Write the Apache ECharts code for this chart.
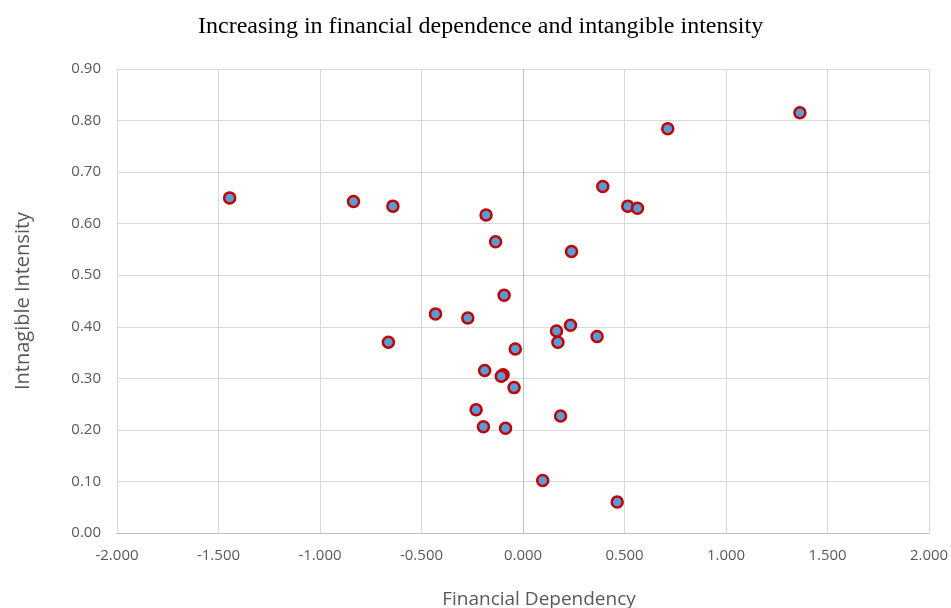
<!DOCTYPE html>
<html>
<head>
<meta charset="utf-8">
<script src="https://cdn.jsdelivr.net/npm/echarts@6/dist/echarts.min.js"></script>
<style>
html,body{margin:0;padding:0;background:#fff;}
#main{width:951px;height:608px;}
</style>
</head>
<body>
<div id="main"></div>
<script>
// financial dependency (x) vs intangible intensity (y)
var finDep = [-1.445, -0.835, -0.641, -0.182, -0.135, 0.239, 0.393, 0.516, 0.564, 0.713,
	1.364, -0.093, -0.431, -0.272, -0.663, 0.165, 0.234, 0.172, 0.365, -0.038,
	-0.189, -0.098, -0.107, -0.044, -0.231, 0.185, -0.195, -0.086, 0.097, 0.464];
var intIntensity = [0.650, 0.643, 0.634, 0.617, 0.565, 0.546, 0.672, 0.634, 0.630, 0.784,
	0.815, 0.461, 0.425, 0.417, 0.370, 0.392, 0.403, 0.370, 0.381, 0.357,
	0.315, 0.307, 0.304, 0.282, 0.239, 0.227, 0.206, 0.203, 0.102, 0.060];

var points = [];
for (var i = 0; i < finDep.length; i++) {
	points.push([finDep[i], intIntensity[i]]);
}

var chart = echarts.init(document.getElementById('main'));
var option = {
	animation: false,
	title: {
		text: 'Increasing in financial dependence and intangible intensity',
		left: 193,
		top: 10,
		textStyle: {
			fontFamily: 'Liberation Serif',
			fontWeight: 'normal',
			fontSize: 24,
			color: '#000'
		}
	},
	grid: {
		left: 117,
		right: 22,
		top: 69,
		bottom: 75,
		outerBoundsMode: 'none'
	},
	xAxis: {
		type: 'value',
		min: -2,
		max: 2,
		interval: 0.5,
		name: 'Financial Dependency',
		nameLocation: 'middle',
		nameGap: 57,
		nameTextStyle: {
			fontFamily: 'Open Sans',
			fontSize: 19,
			color: '#595959',
			padding: [0, 0, 0, 32]
		},
		axisLine: { show: true, lineStyle: { color: '#bfbfbf' } },
		axisTick: { show: false },
		axisLabel: {
			fontFamily: 'Open Sans',
			fontSize: 15,
			color: '#595959',
			margin: 15,
			formatter: function (v) { return v.toFixed(3); }
		},
		splitLine: { show: true, lineStyle: { color: '#d9d9d9' } }
	},
	yAxis: {
		type: 'value',
		min: 0,
		max: 0.9,
		interval: 0.1,
		name: 'Intnagible Intensity',
		nameLocation: 'middle',
		nameGap: 84,
		nameTextStyle: {
			fontFamily: 'Open Sans',
			fontSize: 20,
			color: '#595959'
		},
		axisLine: { show: false },
		axisTick: { show: false },
		axisLabel: {
			fontFamily: 'Open Sans',
			fontSize: 15,
			color: '#595959',
			margin: 16,
			formatter: function (v) { return v.toFixed(2); }
		},
		splitLine: { show: true, lineStyle: { color: '#d9d9d9' } }
	},
	series: [{
		type: 'scatter',
		data: points,
		symbol: 'circle',
		symbolSize: 11,
		itemStyle: {
			color: '#5b9bd5',
			borderColor: '#c00000',
			borderWidth: 2.5,
			opacity: 1
		},
		markLine: {
			silent: true,
			symbol: 'none',
			label: { show: false },
			lineStyle: { color: '#bfbfbf', type: 'solid', width: 1 },
			data: [{ xAxis: 0 }]
		},
		z: 5
	}]
};
chart.setOption(option);
</script>
</body>
</html>
